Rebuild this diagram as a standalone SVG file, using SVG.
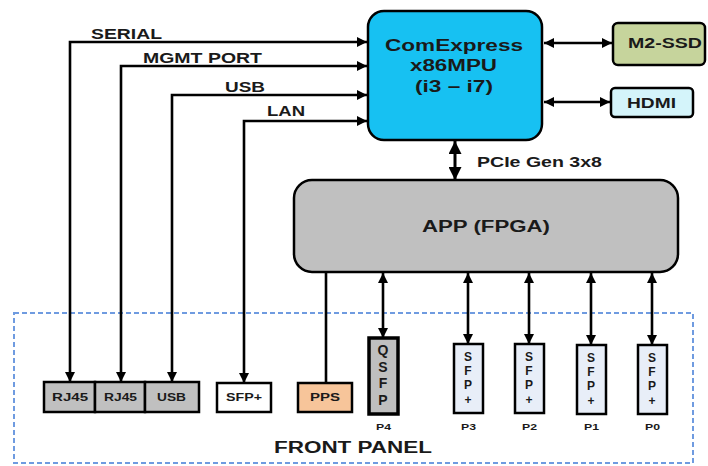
<svg xmlns="http://www.w3.org/2000/svg" width="708" height="466" viewBox="0 0 708 466">
<defs>
<marker id="ah" viewBox="0 0 10 10" refX="10" refY="5" markerWidth="11" markerHeight="10" markerUnits="userSpaceOnUse" orient="auto-start-reverse">
<path d="M0,0 L10,5 L0,10 z" fill="#000"/>
</marker>
<marker id="ahb" viewBox="0 0 10 10" refX="10" refY="5" markerWidth="13" markerHeight="13" markerUnits="userSpaceOnUse" orient="auto-start-reverse">
<path d="M0,0 L10,5 L0,10 z" fill="#000"/>
</marker>
</defs>
<style>
text{font-family:"Liberation Sans",Arial,sans-serif;font-weight:bold;fill:#1a1a1a}
.c{text-anchor:middle}
.ln{fill:none;stroke:#000;stroke-width:2.6;marker-start:url(#ah);marker-end:url(#ah)}
.box{stroke:#000;stroke-width:2.5}
.lt{font-size:12px}
.pl{font-size:9px}
</style>
<rect width="708" height="466" fill="#fff"/>
<rect id="frontpanel" x="14" y="313" width="679" height="150" fill="none" stroke="#6f9be0" stroke-width="2" stroke-dasharray="5,3"/>
<g id="connectors">
<path class="ln" d="M70,382 V42 H367"/>
<path class="ln" d="M121,382 V66 H367"/>
<path class="ln" d="M172,382 V95 H367"/>
<path class="ln" d="M244,383 V121 H367"/>
<path class="ln" d="M544,43 H612"/>
<path class="ln" d="M544,102 H610"/>
<path class="ln" style="stroke-width:3;marker-start:url(#ahb);marker-end:url(#ahb)" d="M455,141 V180"/>
<path d="M326,272 V383" fill="none" stroke="#000" stroke-width="2.6"/>
<path class="ln" d="M383,273 V338"/>
<path class="ln" d="M468,273 V344"/>
<path class="ln" d="M529,273 V344"/>
<path class="ln" d="M591,273 V345"/>
<path class="ln" d="M652,273 V345"/>
<text x="91" y="39" font-size="15" textLength="71" lengthAdjust="spacingAndGlyphs">SERIAL</text>
<text x="143" y="63" font-size="15" textLength="119" lengthAdjust="spacingAndGlyphs">MGMT PORT</text>
<text x="225" y="92" font-size="15" textLength="40" lengthAdjust="spacingAndGlyphs">USB</text>
<text x="267" y="116" font-size="15" textLength="38" lengthAdjust="spacingAndGlyphs">LAN</text>
<text x="477" y="167" font-size="15" textLength="125" lengthAdjust="spacingAndGlyphs">PCIe Gen 3x8</text>
</g>
<g id="cpu">
<rect class="box" x="368" y="11" width="174" height="129" rx="16" fill="#17c1f2"/>
<text x="385" y="51" font-size="16" textLength="138" lengthAdjust="spacingAndGlyphs">ComExpress</text>
<text x="410" y="71" font-size="16" textLength="87" lengthAdjust="spacingAndGlyphs">x86MPU</text>
<text x="415" y="92" font-size="16" textLength="78" lengthAdjust="spacingAndGlyphs">(i3 – i7)</text>
</g>
<g id="m2ssd">
<rect class="box" x="613" y="23" width="92" height="42" rx="5" fill="#c6d49c"/>
<text x="628" y="48" font-size="14" textLength="74" lengthAdjust="spacingAndGlyphs">M2-SSD</text>
</g>
<g id="hdmi">
<rect class="box" x="611" y="88" width="82" height="29" rx="4" fill="#d4f4fa"/>
<text x="627" y="108" font-size="14" textLength="49" lengthAdjust="spacingAndGlyphs">HDMI</text>
</g>
<g id="app">
<rect class="box" x="294" y="180" width="384" height="92" rx="18" fill="#c0c0c0"/>
<text x="422" y="232" font-size="16" textLength="128" lengthAdjust="spacingAndGlyphs">APP (FPGA)</text>
</g>
<g id="rj45a">
<rect class="box" x="44" y="382" width="51" height="30" fill="#c0c0c0"/>
<text x="52" y="401" font-size="11" textLength="36" lengthAdjust="spacingAndGlyphs">RJ45</text>
</g>
<g id="rj45b">
<rect class="box" x="95" y="382" width="50" height="30" fill="#c0c0c0"/>
<text x="104" y="401" font-size="11" textLength="33" lengthAdjust="spacingAndGlyphs">RJ45</text>
</g>
<g id="usbport">
<rect class="box" x="145" y="382" width="54" height="30" fill="#c0c0c0"/>
<text x="157" y="401" font-size="11" textLength="29" lengthAdjust="spacingAndGlyphs">USB</text>
</g>
<g id="sfpport">
<rect class="box" x="217" y="383" width="54" height="29" fill="#fff"/>
<text x="226" y="401" font-size="10" textLength="36" lengthAdjust="spacingAndGlyphs">SFP+</text>
</g>
<g id="pps">
<rect class="box" x="298" y="383" width="54" height="29" fill="#f7c59a"/>
<text x="310" y="401" font-size="11" textLength="30" lengthAdjust="spacingAndGlyphs">PPS</text>
</g>
<g id="p4">
<rect x="369" y="338" width="29" height="76" fill="#bfbfbf" stroke="#000" stroke-width="3.5"/>
<text class="c" x="383" y="355" font-size="14">Q</text>
<text class="c" x="383" y="372" font-size="14">S</text>
<text class="c" x="383" y="388" font-size="14">F</text>
<text class="c" x="383" y="405" font-size="14">P</text>
<text class="pl" x="376" y="430" textLength="15" lengthAdjust="spacingAndGlyphs">P4</text>
</g>
<g id="p3">
<rect class="box" x="454" y="344" width="29" height="69" fill="#e8eef8"/>
<text class="c lt" x="468" y="361">S</text>
<text class="c lt" x="468" y="375">F</text>
<text class="c lt" x="468" y="389">P</text>
<text class="c lt" x="468" y="404">+</text>
<text class="pl" x="461" y="430" textLength="15" lengthAdjust="spacingAndGlyphs">P3</text>
</g>
<g id="p2">
<rect class="box" x="515" y="344" width="29" height="69" fill="#e8eef8"/>
<text class="c lt" x="529" y="361">S</text>
<text class="c lt" x="529" y="375">F</text>
<text class="c lt" x="529" y="389">P</text>
<text class="c lt" x="529" y="404">+</text>
<text class="pl" x="522" y="430" textLength="15" lengthAdjust="spacingAndGlyphs">P2</text>
</g>
<g id="p1">
<rect class="box" x="577" y="345" width="29" height="69" fill="#e8eef8"/>
<text class="c lt" x="591" y="362">S</text>
<text class="c lt" x="591" y="376">F</text>
<text class="c lt" x="591" y="390">P</text>
<text class="c lt" x="591" y="405">+</text>
<text class="pl" x="584" y="430" textLength="15" lengthAdjust="spacingAndGlyphs">P1</text>
</g>
<g id="p0">
<rect class="box" x="638" y="345" width="29" height="69" fill="#e8eef8"/>
<text class="c lt" x="652" y="362">S</text>
<text class="c lt" x="652" y="376">F</text>
<text class="c lt" x="652" y="390">P</text>
<text class="c lt" x="652" y="405">+</text>
<text class="pl" x="645" y="430" textLength="15" lengthAdjust="spacingAndGlyphs">P0</text>
</g>
<text x="274" y="453" font-size="16" textLength="158" lengthAdjust="spacingAndGlyphs">FRONT PANEL</text>
</svg>
